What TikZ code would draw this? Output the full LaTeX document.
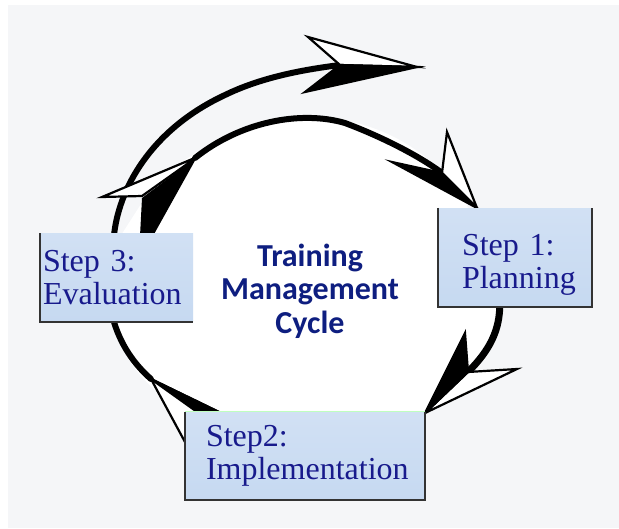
\documentclass[tikz,border=0pt]{standalone}
\usepackage{fontspec}
\setmainfont{Liberation Serif}
\newfontfamily\cyclefont{Carlito}
\definecolor{StepBlue}{RGB}{198,217,241}
\definecolor{StepText}{RGB}{24,26,140}
\definecolor{CycleText}{RGB}{14,30,128}
\definecolor{PageGray}{RGB}{245,246,248}
\usetikzlibrary{positioning,calc,backgrounds}
\tikzset{>=latex}

\begin{document}
\begin{tikzpicture}[x=1pt,y=-1pt,
    shaft/.style={line width=6pt,line cap=round},
    headwhite/.style={fill=white,draw=black,line width=2.2pt,line join=miter},
    headblack/.style={fill=black,draw=black,line width=2.2pt,line join=miter},
    stepbox/.style={rectangle,top color=StepBlue!80!white,bottom color=StepBlue,
        text=StepText,align=left,inner ysep=0pt,font=\fontsize{32}{33}\selectfont},
    boxedge/.style={draw=black!80,line width=2.2pt}]
        \useasboundingbox (0,0) rectangle (619,528);
        % boxes
        \node[stepbox,minimum width=153pt,minimum height=88pt,text width=147pt,inner xsep=3pt]
            at (116.5,277.5) (s3) {Step 3:\\Evaluation};
        \node[stepbox,minimum width=154pt,minimum height=99pt,text width=106pt,inner xsep=24pt]
            at (515,257.5) (s1) {\rule{0pt}{36pt}Step 1:\\Planning};
        \node[stepbox,minimum width=240pt,minimum height=88pt,text width=198pt,inner xsep=21pt]
            at (305,456) (s2) {Step2:\\Implementation};
        % arrow ends
        \coordinate (topNotch) at (340,65);
        \coordinate (innerL) at (195,158);
        \coordinate (innerNotch) at (442,173);
        \coordinate (rightNotch) at (468,372);
        \coordinate (leftTip) at (151,379);
        \begin{scope}[on background layer]
            % page and inside of the ring
            \fill[PageGray] (8,5) rectangle (619,528);
            \fill[white] (150,190) .. controls (200,140) and (260,115) .. (315,117)
                .. controls (380,120) and (430,150) .. (465,200) -- (500,300)
                .. controls (500,340) and (470,380) .. (425,413) -- (185,413)
                .. controls (150,390) and (120,360) .. (113,320) -- (118,240) -- cycle;
            % shafts
            \draw[shaft] ($(s3.north west)+(74,4)$) .. controls (118,190) and (150,130) .. (225,95)
                .. controls (260,78) and (300,70) .. (topNotch);
            \draw[shaft] (innerL) .. controls (240,122) and (300,110) .. (345,123)
                .. controls (390,140) and (425,160) .. (innerNotch);
            \draw[shaft,line width=7pt] ($(s1.south west)+(62,-4)$) .. controls (500,330) and (490,350) .. (rightNotch);
            \draw[shaft] ($(s3.south west)+(73,-4)$) .. controls (120,345) and (135,365) .. (leftTip);
            % arrow heads
            \draw[headwhite] (417,67) -- (308,37) -- (topNotch) -- cycle;
            \draw[headblack] (417,67) -- (topNotch) -- (305,92) -- cycle;
            \draw[headwhite] (477,208) -- (447,132) -- (innerNotch) -- cycle;
            \draw[headblack] (477,208) -- (innerNotch) -- (392,162) -- cycle;
            \draw[headwhite] (425,413) -- (rightNotch) -- (517,369) -- cycle;
            \draw[headblack] (425,413) -- (465,333) -- (rightNotch) -- cycle;
            \draw[headwhite] (102,197) -- (197,157) -- (142,196) -- cycle;
            \fill (197,157) -- (153,236) -- (140,236) -- (142,198) -- cycle;
            \draw[headwhite] (leftTip) -- (219,412) -- (185,442) -- cycle;
            \draw[headblack] (leftTip) -- (219,412) -- (200,414) -- cycle;
        \end{scope}
        % box edges
        \draw[boxedge] (s3.north west) -- (s3.south west) -- (s3.south east);
        \draw[boxedge] (s1.north west) -- (s1.south west) -- (s1.south east) -- (s1.north east);
        \draw[boxedge] (s2.north west) -- (s2.south west) -- (s2.south east) -- (s2.north east);
        \draw[green!25!white,line width=1.2pt] (s2.north west) -- (s2.north east);
        \node[text=CycleText,align=center,font=\cyclefont\bfseries\fontsize{32}{33.5}\selectfont]
            at (310,291) (title) {Training\\Management\\Cycle};
    \end{tikzpicture}
\end{document}
